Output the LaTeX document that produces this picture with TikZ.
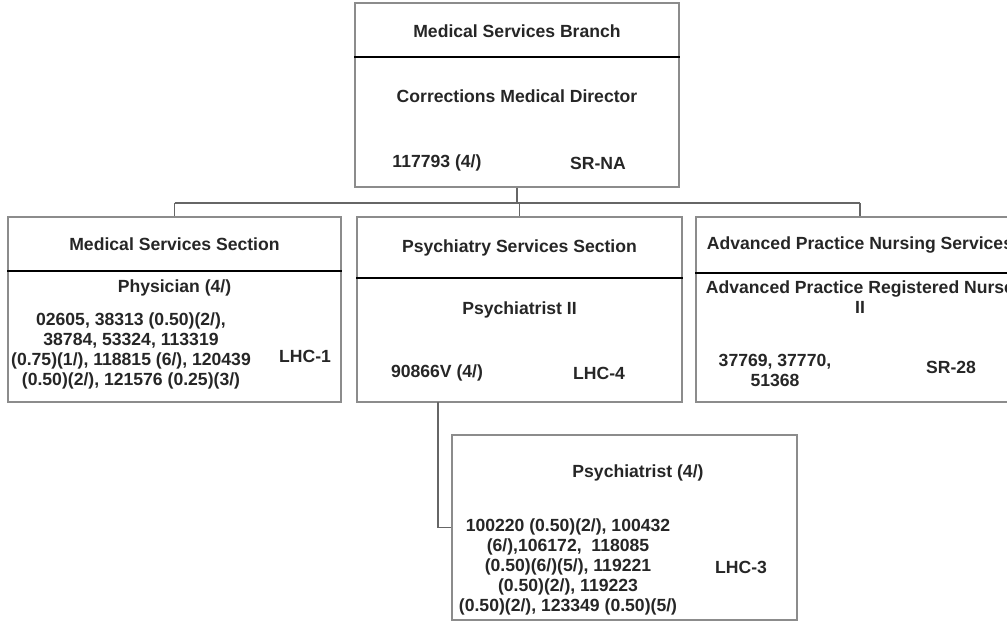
\documentclass[tikz,border=0pt]{standalone}
\usepackage{fontspec}
\setmainfont{Liberation Sans}
\usetikzlibrary{positioning}
\tikzset{
	orgbox/.style={draw=black!45, line width=0.6pt, inner sep=0pt},
	divider/.style={draw=black, line width=0.6pt},
	link/.style={draw=black!60, line width=0.6pt},
	lbl/.style={font=\bfseries\fontsize{8.8}{10}\selectfont, text=black!85, align=center, inner sep=0pt}
}
\begin{document}
\begin{tikzpicture}[x=0.5pt, y=-0.5pt, line cap=butt]
	\useasboundingbox (0,0) rectangle (1007,621);
	\clip (0,0) rectangle (1007,621);
	% boxes
	\node[orgbox, minimum width=162pt, minimum height=92pt] (branch) at (517,95) {};
	\node[orgbox, minimum width=166.5pt, minimum height=92.5pt] (medsec) at (174.5,309.5) {};
	\node[orgbox, minimum width=162.5pt, minimum height=92.5pt] (psysec) at (519.5,309.5) {};
	\node[orgbox, minimum width=164pt, minimum height=92.5pt] (nursec) at (860,309.5) {};
	\node[orgbox, minimum width=172.5pt, minimum height=92.5pt] (psych) at (624.5,527.5) {};
	% dividers
	\draw[divider] (branch.west |- 0,57) -- (branch.east |- 0,57);
	\draw[divider] (medsec.west |- 0,271) -- (medsec.east |- 0,271);
	\draw[divider] (psysec.west |- 0,278) -- (psysec.east |- 0,278);
	\draw[divider] (nursec.west |- 0,273) -- (nursec.east |- 0,273);
	% connectors
	\coordinate (busL) at (174.5,203);
	\coordinate (busR) at (860,203);
	\coordinate (tap) at (438,402);
	\draw[link] (branch.south) -- (branch.south |- busL);
	\draw[link] (busL) -- (busR);
	\draw[link] (busL) -- (medsec.north);
	\draw[link] (psysec.north |- busL) -- (psysec.north);
	\draw[link] (busR) -- (nursec.north);
	\draw[link] (tap) |- (psych.west);
	% top
	\node[lbl] (branchT) at (517,31) {Medical Services Branch};
	\node[lbl] (director) at (517,96) {Corrections Medical Director};
	\node[lbl] (dirPos) at (437,163) {117793 (4/)};
	\node[lbl] (dirPay) at (598,163) {SR-NA};
	% medical services
	\node[lbl] (medT) at (174.5,244) {Medical Services Section};
	\node[lbl] (phys) at (174.5,288) {Physician (4/)};
	\node[lbl] (physPos) at (131,351) {02605, 38313 (0.50)(2/),\\38784, 53324, 113319\\(0.75)(1/), 118815 (6/), 120439\\(0.50)(2/), 121576 (0.25)(3/)};
	\node[lbl] (physPay) at (305,356) {LHC-1};
	% psychiatry services
	\node[lbl] (psyT) at (519.5,248) {Psychiatry Services Section};
	\node[lbl] (psyII) at (519.5,310) {Psychiatrist II};
	\node[lbl] (psyIIPos) at (437,373) {90866V (4/)};
	\node[lbl] (psyIIPay) at (599,373) {LHC-4};
	% nursing
	\node[lbl] (nurT) at (860,245) {Advanced Practice Nursing Services};
	\node[lbl] (aprn) at (860,297) {Advanced Practice Registered Nurse\\II};
	\node[lbl] (aprnPos) at (775,370) {37769, 37770,\\51368};
	\node[lbl] (aprnPay) at (951,367) {SR-28};
	% psychiatrist
	\node[lbl] (psyName) at (638,473) {Psychiatrist (4/)};
	\node[lbl] (psyPos) at (568,567) {100220 (0.50)(2/), 100432\\(6/),106172,\ \ 118085\\(0.50)(6/)(5/), 119221\\(0.50)(2/), 119223\\(0.50)(2/), 123349 (0.50)(5/)};
	\node[lbl] (psyPay) at (741,567) {LHC-3};
\end{tikzpicture}
\end{document}
